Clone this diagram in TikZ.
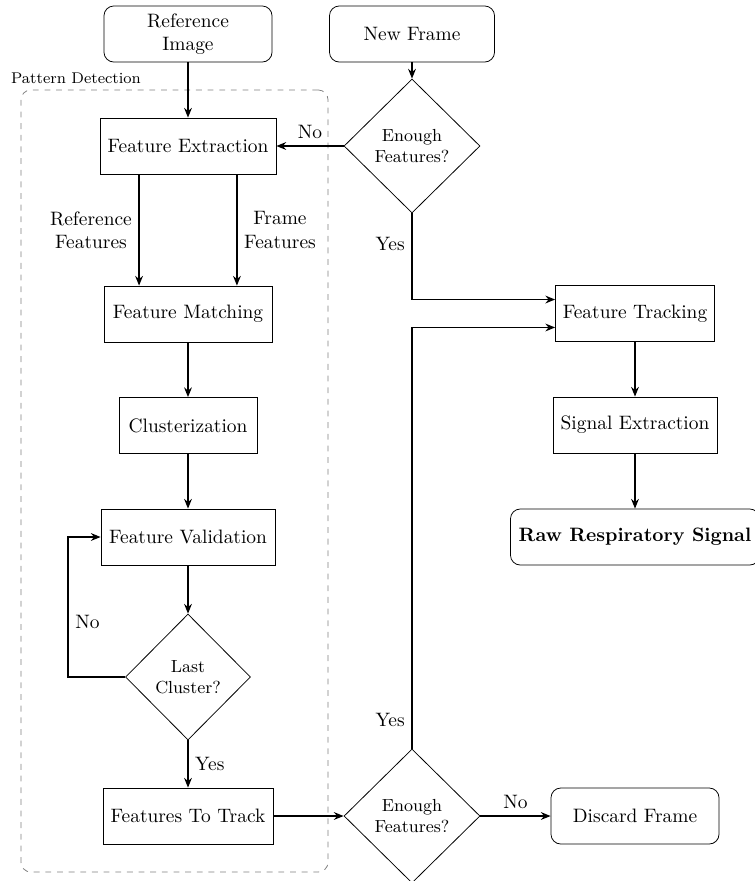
\documentclass[tikz,border=0pt]{standalone}
\usetikzlibrary{shapes.geometric,arrows.meta}
\begin{document}
\begin{tikzpicture}[x=0.515pt,y=-0.515pt,
  box/.style={draw, rectangle, minimum height=56*0.515pt, inner sep=0pt, align=center},
  rbox/.style={box, rounded corners=5pt},
  dec/.style={draw, diamond, minimum width=136*0.515pt, minimum height=134*0.515pt, inner sep=0pt, align=center, font=\small},
  arr/.style={thick, -{Stealth[length=5pt,width=4pt]}},
  group/.style={draw=gray, dashed, rounded corners=5pt}]
\useasboundingbox (0,0) rectangle (754,881);
% group frame
\node[group, minimum width=307*0.515pt, minimum height=782*0.515pt] (pd) at (174.5,481) {};
\node[font=\footnotesize] (pdl) at (76,78) {Pattern Detection};
% nodes
\node[rbox, minimum width=168*0.515pt] (ref) at (188,34) {Reference\\Image};
\node[rbox, minimum width=165*0.515pt] (nf) at (412,34) {New Frame};
\node[dec] (d1) at (412,146) {Enough\\Features?};
\node[box, minimum width=176*0.515pt] (fe) at (188,146) {Feature Extraction};
\node[box, minimum width=168*0.515pt] (fm) at (188,314) {Feature Matching};
\node[box, minimum width=138*0.515pt] (cl) at (188,425.5) {Clusterization};
\node[box, minimum width=174*0.515pt] (fv) at (188,537) {Feature Validation};
\node[dec, minimum width=125*0.515pt, minimum height=126*0.515pt] (d2) at (188,677) {Last\\Cluster?};
\node[box, minimum width=170*0.515pt] (ft) at (188,816) {Features To Track};
\node[dec] (d3) at (412,816) {Enough\\Features?};
\node[rbox, minimum width=168*0.515pt] (df) at (635,816) {Discard Frame};
\node[box, minimum width=159*0.515pt] (tr) at (635,313.5) {Feature Tracking};
\node[box, minimum width=164*0.515pt] (se) at (635,425) {Signal Extraction};
\node[rbox, minimum width=249*0.515pt] (raw) at (635,537) {\textbf{Raw Respiratory Signal}};
% connectors
\draw[arr] (ref) -- (fe);
\draw[arr] (nf) -- (d1);
\draw[arr] (d1) -- node[above] {No} (fe);
\draw[arr] (d1.south) |- node[pos=0.175, left] {Yes} ([yshift=7.2pt]tr.west);
\draw[arr] ([xshift=-25.2pt]fe.south) -- node[left, align=center] {Reference\\Features} ([xshift=-25.2pt]fm.north);
\draw[arr] ([xshift=25.2pt]fe.south) -- node[right, align=center] {Frame\\Features} ([xshift=25.2pt]fm.north);
\draw[arr] (fm) -- (cl);
\draw[arr] (cl) -- (fv);
\draw[arr] (fv) -- (d2);
\draw[arr] (d2.west) -- ++(-57,0) |- node[pos=0.196, right] {No} (fv.west);
\draw[arr] (d2) -- node[right] {Yes} (ft);
\draw[arr] (ft) -- (d3);
\draw[arr] (d3) -- node[above] {No} (df);
\draw[arr] (d3.north) |- node[pos=0.034, left] {Yes} ([yshift=-7.2pt]tr.west);
\draw[arr] (tr) -- (se);
\draw[arr] (se) -- (raw);
\end{tikzpicture}
\end{document}
